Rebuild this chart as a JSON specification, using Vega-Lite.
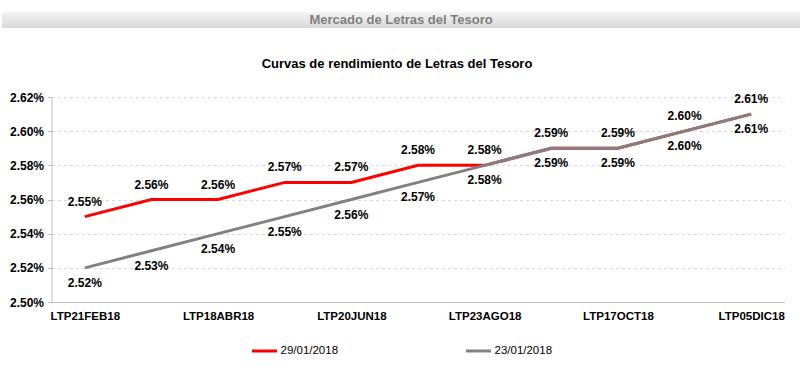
{
  "$schema": "https://vega.github.io/schema/vega-lite/v6.json",
  "padding": {"left": 2, "top": 12, "right": 0, "bottom": 0},
  "background": "white",
  "config": {"font": "Liberation Sans", "view": {"stroke": null}},
  "datasets": {
    "header": [{"t": "Mercado de Letras del Tesoro"}],
    "curvas": [
      {"serie": "29/01/2018", "bono": "LTP21FEB18", "rend": 0.0255},
      {"serie": "29/01/2018", "bono": "LTP16MAR18", "rend": 0.0256},
      {"serie": "29/01/2018", "bono": "LTP18ABR18", "rend": 0.0256},
      {"serie": "29/01/2018", "bono": "LTP18MAY18", "rend": 0.0257},
      {"serie": "29/01/2018", "bono": "LTP20JUN18", "rend": 0.0257},
      {"serie": "29/01/2018", "bono": "LTP20JUL18", "rend": 0.0258},
      {"serie": "29/01/2018", "bono": "LTP23AGO18", "rend": 0.0258},
      {"serie": "29/01/2018", "bono": "LTP21SEP18", "rend": 0.0259},
      {"serie": "29/01/2018", "bono": "LTP17OCT18", "rend": 0.0259},
      {"serie": "29/01/2018", "bono": "LTP16NOV18", "rend": 0.0260},
      {"serie": "29/01/2018", "bono": "LTP05DIC18", "rend": 0.0261},
      {"serie": "23/01/2018", "bono": "LTP21FEB18", "rend": 0.0252},
      {"serie": "23/01/2018", "bono": "LTP16MAR18", "rend": 0.0253},
      {"serie": "23/01/2018", "bono": "LTP18ABR18", "rend": 0.0254},
      {"serie": "23/01/2018", "bono": "LTP18MAY18", "rend": 0.0255},
      {"serie": "23/01/2018", "bono": "LTP20JUN18", "rend": 0.0256},
      {"serie": "23/01/2018", "bono": "LTP20JUL18", "rend": 0.0257},
      {"serie": "23/01/2018", "bono": "LTP23AGO18", "rend": 0.0258},
      {"serie": "23/01/2018", "bono": "LTP21SEP18", "rend": 0.0259},
      {"serie": "23/01/2018", "bono": "LTP17OCT18", "rend": 0.0259},
      {"serie": "23/01/2018", "bono": "LTP16NOV18", "rend": 0.0260},
      {"serie": "23/01/2018", "bono": "LTP05DIC18", "rend": 0.0261}
    ]
  },
  "vconcat": [
    {
      "data": {"name": "header"},
      "width": 832,
      "height": 16,
      "view": {
        "fill": {"gradient": "linear", "x1": 0, "y1": 0, "x2": 0, "y2": 1,
                 "stops": [{"offset": 0, "color": "#f4f4f4"}, {"offset": 1, "color": "#d9d9d9"}]},
        "stroke": null
      },
      "mark": {"type": "text", "fontSize": 13, "fontWeight": "bold", "color": "#7f7f7f", "baseline": "middle", "dx": -17},
      "encoding": {"text": {"field": "t"}}
    },
    {
      "data": {"name": "curvas"},
      "width": 733,
      "height": 205,
      "title": {
        "text": "Curvas de rendimiento de Letras del Tesoro",
        "fontSize": 13,
        "fontWeight": "bold",
        "color": "#000000",
        "frame": "bounds",
        "anchor": "middle",
        "baseline": "bottom",
        "offset": 7
      },
      "encoding": {
        "x": {
          "field": "bono", "type": "nominal", "sort": null,
          "scale": {"type": "point", "padding": 0.5},
          "axis": {
            "title": null,
            "values": ["LTP21FEB18", "LTP18ABR18", "LTP20JUN18", "LTP23AGO18", "LTP17OCT18", "LTP05DIC18"],
            "labelAngle": 0, "labelFontSize": 11.5, "labelFontWeight": "bold", "labelColor": "#000000",
            "ticks": false, "labelPadding": 8, "domainColor": "#bfbfbf", "grid": false
          }
        },
        "y": {
          "field": "rend", "type": "quantitative",
          "scale": {"domain": [0.025, 0.0262], "zero": false, "nice": false},
          "axis": {
            "title": null,
            "values": [0.025, 0.0252, 0.0254, 0.0256, 0.0258, 0.026, 0.0262],
            "format": ".2%",
            "labelFontSize": 12, "labelFontWeight": "bold", "labelColor": "#000000",
            "tickSize": 4, "tickColor": "#bfbfbf", "labelPadding": 4,
            "domainColor": "#bfbfbf", "gridColor": "#d9d9d9", "gridDash": [3, 3]
          }
        }
      },
      "layer": [
        {
          "transform": [{"filter": "datum.serie === '29/01/2018'"}],
          "mark": {"type": "line", "strokeWidth": 3},
          "encoding": {
            "color": {
              "field": "serie", "type": "nominal",
              "scale": {"domain": ["29/01/2018", "23/01/2018"], "range": ["#ff0000", "#858080"]},
              "legend": {
                "orient": "none", "legendX": 199, "legendY": 240, "direction": "horizontal",
                "title": null, "symbolType": "stroke", "symbolSize": 625, "symbolStrokeWidth": 3,
                "labelFontSize": 11.5, "labelColor": "#000000", "columnPadding": 121, "labelOffset": 2
              }
            }
          }
        },
        {
          "transform": [{"filter": "datum.serie === '23/01/2018'"}],
          "mark": {"type": "line", "strokeWidth": 3},
          "encoding": {"color": {"field": "serie", "type": "nominal"}}
        },
        {
          "transform": [{"filter": "datum.serie === '29/01/2018'"}],
          "mark": {"type": "text", "dy": -15, "fontSize": 12, "fontWeight": "bold", "color": "#000000", "baseline": "middle"},
          "encoding": {"text": {"field": "rend", "type": "quantitative", "format": ".2%"}}
        },
        {
          "transform": [{"filter": "datum.serie === '23/01/2018'"}],
          "mark": {"type": "text", "dy": 15, "fontSize": 12, "fontWeight": "bold", "color": "#000000", "baseline": "middle"},
          "encoding": {"text": {"field": "rend", "type": "quantitative", "format": ".2%"}}
        }
      ]
    }
  ],
  "spacing": 30,
  "center": true,
  "resolve": {"legend": {"color": "independent"}}
}
